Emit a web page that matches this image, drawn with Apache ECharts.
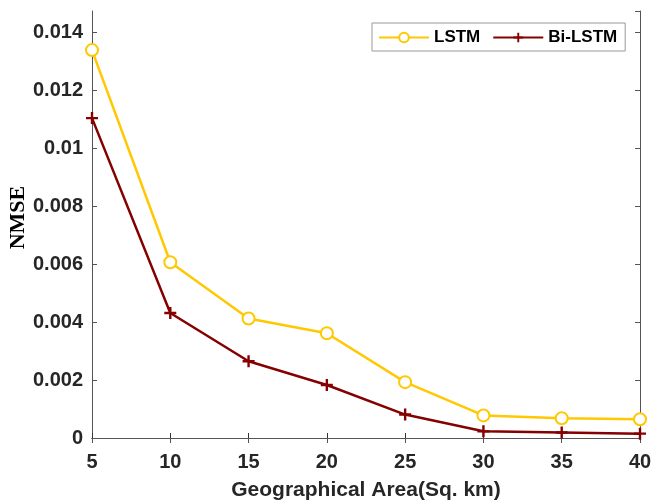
<!DOCTYPE html>
<html>
<head>
<meta charset="utf-8">
<script src="https://cdn.jsdelivr.net/npm/echarts@6/dist/echarts.min.js"></script>
<style>
  html, body { margin: 0; padding: 0; background: #fff; }
  #chart { width: 651px; height: 500px; }
</style>
</head>
<body>
<div id="chart"></div>
<script>
  // geographical area (sq. km)
  const areas = [5, 10, 15, 20, 25, 30, 35, 40]
  const lstm = [0.0134, 0.00607, 0.00413, 0.00362, 0.00193, 0.00078, 0.00068, 0.00065]
  const biLstm = [0.01105, 0.00432, 0.00265, 0.00183, 0.00081, 0.00023, 0.00019, 0.00015]

  const plusPath = 'path://M4,0H6V4H10V6H6V10H4V6H0V4H4Z'
  const axisColor = '#555'
  const textColor = '#262626'

  const toPairs = (vals) => vals.map((v, i) => [areas[i], v])

  const chart = echarts.init(document.getElementById('chart'))
  const option = {
    animation: false,
    grid: { left: 92, top: 11, right: 11, bottom: 62, outerBoundsMode: 'none' },
    legend: {
      left: 372,
      top: 23,
      padding: [6, 8, 5, 6],
      itemGap: 12,
      itemWidth: 50,
      itemHeight: 12,
      borderColor: '#999',
      borderWidth: 1,
      backgroundColor: '#fff',
      textStyle: { fontFamily: 'Liberation Sans', fontWeight: 'bold', fontSize: 17, color: '#000' },
      data: ['LSTM', 'Bi-LSTM'],
    },
    xAxis: [
      {
        type: 'value',
        min: 5,
        max: 40,
        interval: 5,
        name: 'Geographical Area(Sq. km)',
        nameLocation: 'middle',
        nameGap: 42,
        nameMoveOverlap: false,
        nameTextStyle: { fontFamily: 'Liberation Sans', fontWeight: 'bold', fontSize: 21, color: textColor },
        axisLine: { lineStyle: { color: '#333', width: 1 } },
        axisTick: { inside: true, length: 5, lineStyle: { color: '#333' } },
        axisLabel: { fontFamily: 'Liberation Sans', fontWeight: 'bold', fontSize: 20, color: textColor, margin: 14 },
        splitLine: { show: false },
      },
      {
        type: 'value',
        position: 'top',
        min: 5,
        max: 40,
        interval: 5,
        axisLine: { lineStyle: { color: axisColor } },
        axisTick: { inside: true, length: 5, lineStyle: { color: axisColor } },
        axisLabel: { show: false },
        splitLine: { show: false },
      },
    ],
    yAxis: [
      {
        type: 'value',
        min: 0,
        max: 0.01475,
        interval: 0.002,
        name: 'NMSE',
        nameLocation: 'middle',
        nameGap: 63,
        nameMoveOverlap: false,
        nameTextStyle: { fontFamily: 'Liberation Serif', fontWeight: 'bold', fontSize: 22, color: '#000', padding: [0, 0, 0, 14] },
        axisLine: { show: true, lineStyle: { color: axisColor } },
        axisTick: { show: true, inside: true, length: 5, lineStyle: { color: axisColor } },
        axisLabel: { fontFamily: 'Liberation Sans', fontWeight: 'bold', fontSize: 20, color: textColor, margin: 9, showMaxLabel: false },
        splitLine: { show: false },
      },
      {
        type: 'value',
        position: 'right',
        min: 0,
        max: 0.01475,
        interval: 0.002,
        axisLine: { show: true, lineStyle: { color: axisColor } },
        axisTick: { show: true, inside: true, length: 5, lineStyle: { color: axisColor } },
        axisLabel: { show: false },
        splitLine: { show: false },
      },
    ],
    series: [
      {
        name: 'LSTM',
        type: 'line',
        xAxisIndex: 0,
        yAxisIndex: 0,
        data: toPairs(lstm),
        symbol: 'emptyCircle',
        symbolSize: 12,
        lineStyle: { color: '#FFC800', width: 2.5 },
        itemStyle: { color: '#FFC800', borderColor: '#FFC800', borderWidth: 2.5 },
        z: 3,
      },
      {
        name: 'Bi-LSTM',
        type: 'line',
        xAxisIndex: 0,
        yAxisIndex: 0,
        data: toPairs(biLstm),
        symbol: plusPath,
        symbolSize: 12,
        lineStyle: { color: '#850000', width: 2.5 },
        itemStyle: { color: '#850000' },
        z: 4,
      },
    ],
  }
  chart.setOption(option)
</script>
</body>
</html>
